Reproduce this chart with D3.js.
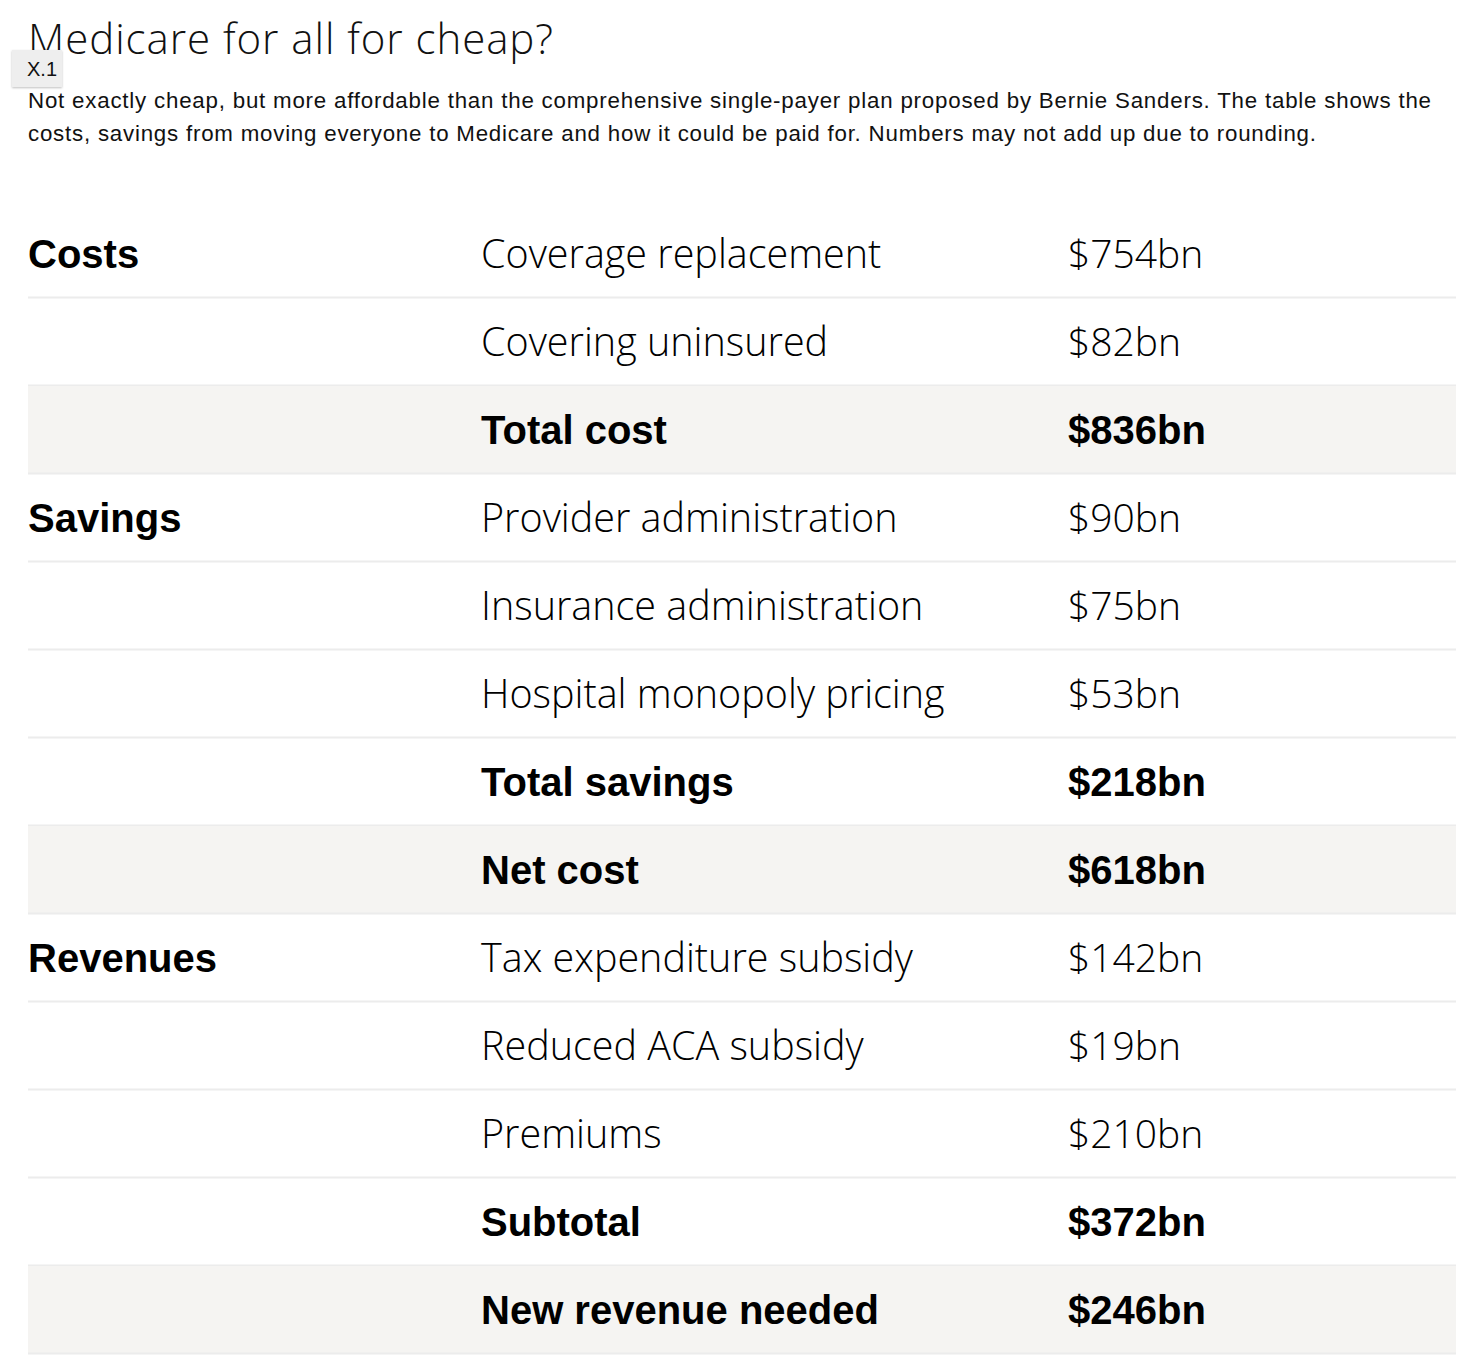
<!DOCTYPE html>
<html><head><meta charset="utf-8">
<script src="https://cdn.jsdelivr.net/npm/d3@7"></script>
<style>
body{margin:0;background:#fff;}
svg{display:block;}
</style></head>
<body>
<svg id="chart" width="1462" height="1372"></svg>
<script>
const title = "Medicare for all for cheap?";
const subtitleLines = [
  "Not exactly cheap, but more affordable than the comprehensive single-payer plan proposed by Bernie Sanders. The table shows the",
  "costs, savings from moving everyone to Medicare and how it could be paid for. Numbers may not add up due to rounding."
];
const items = ["Coverage replacement","Covering uninsured","Total cost","Provider administration","Insurance administration","Hospital monopoly pricing","Total savings","Net cost","Tax expenditure subsidy","Reduced ACA subsidy","Premiums","Subtotal","New revenue needed"];
const values = [754, 82, 836, 90, 75, 53, 218, 618, 142, 19, 210, 372, 246];
const groupLabels = ["Costs","","","Savings","","","","","Revenues","","","",""];
const boldRows = ["Total cost","Total savings","Net cost","Subtotal","New revenue needed"];
const shadedRows = ["Total cost","Net cost","New revenue needed"];

const svg = d3.select("#chart");
const font = "'Liberation Sans', Helvetica, Arial, sans-serif";
const lightFont = "'Open Sans', Roboto, sans-serif";

svg.append("text").attr("x",28).attr("y",54).attr("font-family",lightFont).attr("font-weight",300)
  .attr("font-size",42).attr("fill","#111").attr("textLength",525).attr("lengthAdjust","spacing").text(title);

const subW = [1403, 1288];
svg.selectAll("text.sub").data(subtitleLines).join("text").attr("class","sub")
  .attr("x",28).attr("y",(d,i)=>108+i*33).attr("font-family",font).attr("font-size",22.3).attr("fill","#111")
  .attr("textLength",(d,i)=>subW[i]).attr("lengthAdjust","spacing").text(d=>d);

const y = d3.scaleBand().domain(d3.range(items.length)).range([210,1354]);
const rows = svg.append("g").selectAll("g").data(items).join("g")
  .attr("transform",(d,i)=>`translate(0,${y(i)})`);

rows.filter(d=>shadedRows.includes(d)).append("rect").attr("x",28).attr("width",1428)
  .attr("y",0).attr("height",y.bandwidth()).attr("fill","#f5f4f2");
rows.append("rect").attr("x",28).attr("width",1428).attr("y",y.bandwidth()-1.5).attr("height",2).attr("fill","#ececec");

const fmt = v => "$" + d3.format("d")(v) + "bn";
const isB = d => boldRows.includes(d);
rows.append("text").attr("x",28).attr("y",58).attr("font-family",font).attr("font-weight",700)
  .attr("font-size",40).attr("fill","#000").text((d,i)=>groupLabels[i]);
rows.append("text").attr("x",481).attr("y",58)
  .attr("font-family",d=>isB(d)?font:lightFont)
  .attr("font-weight",d=>isB(d)?700:300)
  .attr("font-size",d=>isB(d)?40:39.5).attr("fill","#000").text(d=>d);
rows.append("text").attr("x",1068).attr("y",58)
  .attr("font-family",d=>isB(d)?font:lightFont)
  .attr("font-weight",d=>isB(d)?700:300)
  .attr("font-size",d=>isB(d)?40:39).attr("fill","#000").text((d,i)=>fmt(values[i]));

// badge
const defs = svg.append("defs");
const f = defs.append("filter").attr("id","sh").attr("x","-20%").attr("y","-20%").attr("width","140%").attr("height","150%");
f.append("feDropShadow").attr("dx",0).attr("dy",1).attr("stdDeviation",1).attr("flood-color","#000").attr("flood-opacity",0.25);
svg.append("rect").attr("x",12).attr("y",50).attr("width",50).attr("height",37).attr("fill","#eeeeee").attr("filter","url(#sh)");
svg.append("text").attr("x",27).attr("y",76).attr("font-family",font).attr("font-size",20).attr("fill","#111").text("X.1");
</script>
</body></html>
